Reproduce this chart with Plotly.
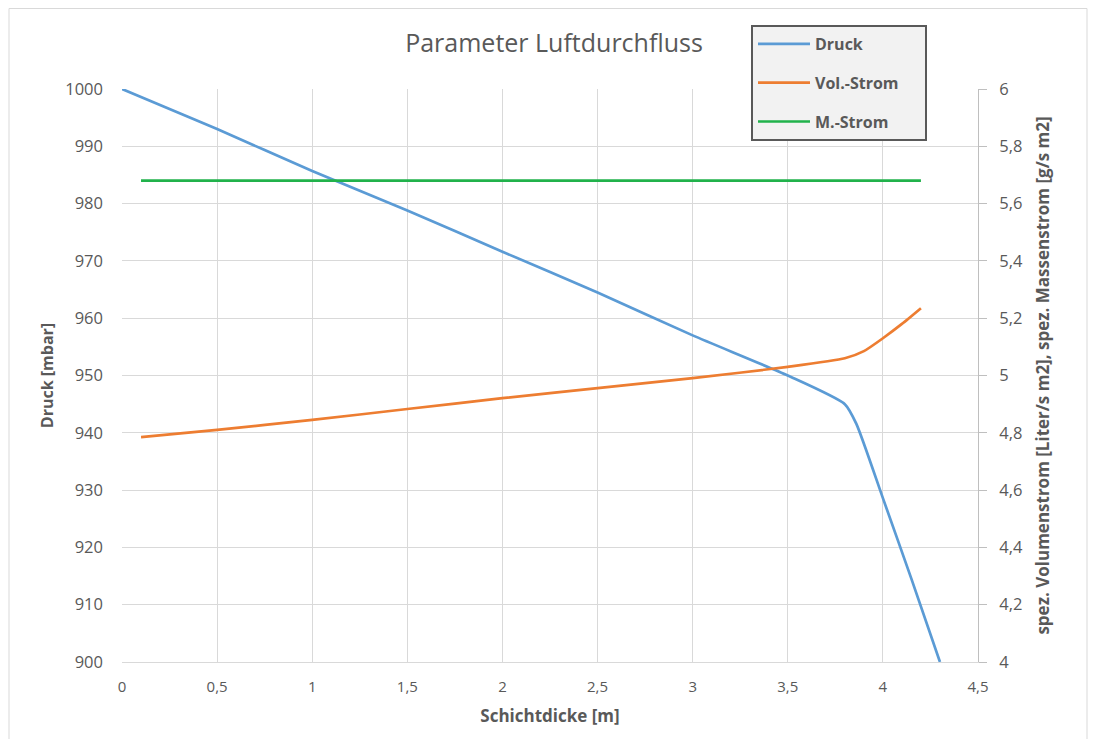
import plotly.graph_objects as go

# Schichtdicke [m]
druck_x = [0, 0.5, 1, 1.5, 2, 2.5, 3, 3.5, 3.8, 3.86, 4.0, 4.15, 4.3]
druck_y = [1000, 993, 985.7, 978.8, 971.6, 964.5, 957, 950, 945, 941.6, 928.6, 914.5, 900]

vol_x = [0.1, 0.5, 1, 1.5, 2, 2.5, 3, 3.5, 3.8, 3.9, 4.0, 4.1, 4.2]
vol_y = [4.785, 4.81, 4.845, 4.883, 4.921, 4.956, 4.991, 5.03, 5.06, 5.085, 5.13, 5.18, 5.235]

mstrom_x = [0.1, 4.2]
mstrom_y = [5.68, 5.68]

GRAY = "#595959"
GRID = "#d9d9d9"
FONT = "Open Sans, Liberation Sans, sans-serif"

# page has an 8px body margin, so figure coords = page coords - 8
L, T, PW, PH = 114, 81, 856, 573
W, H = 1080, 731

PAD = "\u00a0" * 5

fig = go.Figure()

fig.add_trace(go.Scatter(x=druck_x, y=druck_y, name="Druck" + PAD, mode="lines", legendgroup="a",
                         line=dict(color="#5b9bd5", width=2.7, shape="spline", smoothing=0.6)))
fig.add_trace(go.Scatter(x=vol_x, y=vol_y, name="Vol.-Strom" + PAD, mode="lines", yaxis="y2", legendgroup="b",
                         line=dict(color="#ed7d31", width=2.7, shape="spline", smoothing=0.6)))
fig.add_trace(go.Scatter(x=mstrom_x, y=mstrom_y, name="M.-Strom" + PAD, mode="lines", yaxis="y2", legendgroup="c",
                         line=dict(color="#21b24b", width=2.7)))

fig.update_layout(
    width=W, height=H,
    margin=dict(l=L, r=W - L - PW, t=T, b=H - T - PH),
    paper_bgcolor="white", plot_bgcolor="white",
    separators=",.",
    font=dict(family=FONT, color=GRAY, size=15),
    title=dict(text="Parameter Luftdurchfluss", x=(554 - 8) / W, xanchor="center",
               y=1 - (43 - 8) / H, yanchor="middle",
               font=dict(size=25, color=GRAY, family=FONT)),
    xaxis=dict(range=[0, 4.5], dtick=0.5, tick0=0, showgrid=True, gridcolor=GRID,
               zeroline=False, showline=True, linecolor=GRID, ticks="", ticklabelstandoff=11,
               tickfont=dict(size=15, color=GRAY),
               title=dict(text="<b>Schichtdicke [m]</b>", font=dict(size=17, color=GRAY), standoff=15)),
    yaxis=dict(range=[900, 1000], dtick=10, showgrid=True, gridcolor=GRID, zeroline=False,
               showline=False, ticks="", ticklabelstandoff=18, tickfont=dict(size=16.5, color=GRAY),
               title=dict(text="<b>Druck [mbar]</b>", font=dict(size=16, color=GRAY), standoff=7)),
    yaxis2=dict(range=[4, 6], dtick=0.2, overlaying="y", side="right", showgrid=False,
                zeroline=False, showline=True, linecolor="#bfbfbf", ticks="outside",
                ticklen=8, tickcolor="#bfbfbf", ticklabelstandoff=9, tickfont=dict(size=16.5, color=GRAY),
                title=dict(text="<b>spez. Volumenstrom [Liter/s m2], spez. Massenstrom [g/s m2]</b>",
                           font=dict(size=17, color=GRAY), standoff=15)),
    legend=dict(x=(751 - 8 - L) / PW, y=(T + PH - (25 - 8)) / PH, xanchor="left", yanchor="top",
                bgcolor="#f2f2f2", bordercolor=GRAY, borderwidth=2,
                font=dict(size=16, color=GRAY, family=FONT, weight="bold"),
                itemwidth=52, tracegroupgap=15),
    showlegend=True,
)

# outer chart frame
fig.add_shape(type="rect", xref="paper", yref="paper",
              x0=(1 - L) / PW, x1=(W - 1 - L) / PW,
              y0=(T + PH - (H + 10)) / PH, y1=(T + PH - 0.5) / PH,
              line=dict(color="#d9d9d9", width=1), layer="below")

fig.write_html("out.html")
